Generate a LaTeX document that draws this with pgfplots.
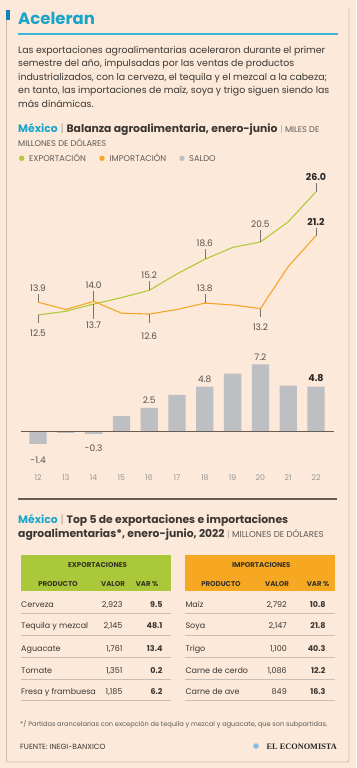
\documentclass[border=0pt]{standalone}
\usepackage{fontspec}
\setmainfont{Poppins}
\newfontfamily\brandfont{Liberation Serif}
\usepackage{pgfplots}
\pgfplotsset{compat=1.18}
\definecolor{bg}{RGB}{252,233,217}
\definecolor{cyanT}{RGB}{27,165,203}
\definecolor{cyanD}{RGB}{22,130,180}
\definecolor{txt}{RGB}{58,54,50}
\definecolor{lab}{RGB}{85,80,76}
\definecolor{soft}{RGB}{95,90,86}
\definecolor{pipe}{RGB}{170,165,160}
\definecolor{gline}{RGB}{178,202,58}
\definecolor{oline}{RGB}{245,166,40}
\definecolor{bargray}{RGB}{190,191,194}
\definecolor{yeargray}{RGB}{150,148,146}
\definecolor{framec}{RGB}{205,188,175}
\definecolor{zeroc}{RGB}{105,92,82}
\definecolor{ghdr}{RGB}{170,200,58}
\definecolor{ohdr}{RGB}{247,168,35}
\definecolor{hdrtxt}{RGB}{55,50,35}
\definecolor{rowline}{RGB}{200,190,182}
\definecolor{globe}{RGB}{130,190,228}
\begin{document}
\begin{tikzpicture}[x=1pt,y=-1pt,
  leader/.style={draw=lab!80, line width=0.45pt},
  lab/.style={font=\fontsize{9}{10}\selectfont, text=lab, inner sep=0pt},
  blab/.style={font=\fontsize{9.5}{10}\selectfont\bfseries, text=black!85, inner sep=0pt}]
\useasboundingbox (0,0) rectangle (356,768);
\fill[bg] (0,0) rectangle (356,768);
% frame
\draw[framec, line width=0.8pt, rounded corners=2pt] (6.5,20) -- (6.5,762) -- (349,762) -- (349,8);
\fill[cyanD] (5.5,10) rectangle (10,20.5);
% title
\node[anchor=base west, inner sep=0pt, font=\fontsize{16.5}{18}\selectfont\bfseries, text=cyanT] at (18,24.5) {Aceleran};
\draw[cyanT!85, line width=1.1pt] (18,34) -- (338,34);
% paragraph
\begin{scope}[every node/.style={anchor=base west, inner sep=0pt, font=\fontsize{9.4}{11}\selectfont, text=txt}]
\node at (18,53.3) {Las exportaciones agroalimentarias aceleraron durante el primer};
\node at (18,66.8) {semestre del año, impulsadas por las ventas de productos};
\node at (18,80.3) {industrializados, con la cerveza, el tequila y el mezcal a la cabeza;};
\node at (18,93.8) {en tanto, las importaciones de maíz, soya y trigo siguen siendo las};
\node at (18,107.3) {más dinámicas.};
\end{scope}
% section 1 header
\node[anchor=base west, inner sep=0pt, font=\fontsize{10.8}{12}\selectfont, text=txt] at (18,132.3)
 {\textcolor{cyanT}{\bfseries México} \textcolor{pipe}{|} \textbf{Balanza agroalimentaria, enero-junio} {\fontsize{8.3}{9}\selectfont\textcolor{soft}{\textcolor{pipe}{|} MILES DE}}};
\node[anchor=base west, inner sep=0pt, font=\fontsize{8.3}{9}\selectfont, text=soft] at (18,146) {MILLONES DE DÓLARES};
% legend
\fill[gline] (21.7,158.3) circle (2.7);
\node[anchor=base west, inner sep=0pt, font=\fontsize{8.3}{9}\selectfont, text=soft] at (29,161.5) {EXPORTACIÓN};
\fill[oline] (102,158.3) circle (2.7);
\node[anchor=base west, inner sep=0pt, font=\fontsize{8.3}{9}\selectfont, text=soft] at (109.5,161.5) {IMPORTACIÓN};
\fill[bargray] (182,158.3) circle (2.7);
\node[anchor=base west, inner sep=0pt, font=\fontsize{8.3}{9}\selectfont, text=soft] at (189,161.5) {SALDO};

% line chart
\begin{axis}[at={(10.2pt,-337.8pt)}, anchor=south west, scale only axis,
  width=333.6pt, height=164.3pt, xmin=11, xmax=23, ymin=10, ymax=28,
  enlargelimits=false, hide axis, clip=false]
\addplot[gline, line width=1.1pt] coordinates {(12,12.5)(13,12.9)(14,13.7)(15,14.4)(16,15.2)(17,17.0)(18,18.6)(19,19.9)(20,20.5)(21,22.7)(22,26.0)};
\addplot[oline, line width=1.1pt] coordinates {(12,13.9)(13,13.1)(14,14.0)(15,12.7)(16,12.6)(17,13.1)(18,13.8)(19,13.6)(20,13.2)(21,17.8)(22,21.2)};
% above labels
\draw[leader] (axis cs:12,13.9) -- ++(0pt,8.5pt);
\node[lab] at ([yshift=14.2pt]axis cs:12,13.9) {13.9};
\draw[leader] (axis cs:14,14.0) -- ++(0pt,10pt);
\node[lab] at ([yshift=15.7pt]axis cs:14,14.0) {14.0};
\draw[leader] (axis cs:16,15.2) -- ++(0pt,9.3pt);
\node[lab] at ([yshift=15.3pt]axis cs:16,15.2) {15.2};
\draw[leader] (axis cs:18,18.6) -- ++(0pt,10pt);
\node[lab] at ([yshift=15.7pt]axis cs:18,18.6) {18.6};
\draw[leader] (axis cs:18,13.8) -- ++(0pt,9.5pt);
\node[lab] at ([yshift=15.3pt]axis cs:18,13.8) {13.8};
\draw[leader] (axis cs:20,20.5) -- ++(0pt,12pt);
\node[lab] at ([yshift=17.7pt]axis cs:20,20.5) {20.5};
\draw[leader] (axis cs:22,26.0) -- ++(0pt,9pt);
\node[blab] at ([yshift=15pt]axis cs:22,26.0) {26.0};
\draw[leader] (axis cs:22,21.2) -- ++(0pt,8pt);
\node[blab] at ([yshift=14pt]axis cs:22,21.2) {21.2};
% below labels
\draw[leader] (axis cs:12,12.5) -- ++(0pt,-8pt);
\node[lab] at ([yshift=-18pt]axis cs:12,12.5) {12.5};
\draw[leader] (axis cs:14,13.7) -- ++(0pt,-15pt);
\node[lab] at ([yshift=-21pt]axis cs:14,13.7) {13.7};
\draw[leader] (axis cs:16,12.6) -- ++(0pt,-9pt);
\node[lab] at ([yshift=-22pt]axis cs:16,12.6) {12.6};
\draw[leader] (axis cs:20,13.2) -- ++(0pt,-8pt);
\node[lab] at ([yshift=-18.7pt]axis cs:20,13.2) {13.2};
\end{axis}

% bar chart
\begin{axis}[at={(10.2pt,-469.9pt)}, anchor=south west, scale only axis,
  width=333.6pt, height=117.6pt, xmin=11, xmax=23, ymin=-4.2, ymax=8.5,
  enlargelimits=false, clip=false, ybar, bar width=17.3pt,
  hide y axis, axis line style={draw=none}, major tick length=0pt,
  xtick={12,...,22}, xticklabels={12,13,14,15,16,17,18,19,20,21,22},
  xticklabel style={font=\fontsize{7.8}{9}\selectfont, text=yeargray, yshift=-1.2pt},
  /pgf/number format/assume math mode=true]
\addplot[fill=bargray, draw=none] coordinates {(12,-1.4)(13,-0.2)(14,-0.3)(15,1.6)(16,2.5)(17,3.9)(18,4.8)(19,6.2)(20,7.2)(21,4.9)(22,4.8)};
\draw[zeroc, line width=0.8pt] (axis cs:11.39,0) -- (axis cs:22.65,0);
\node[lab] at ([yshift=7.3pt]axis cs:20,7.2) {7.2};
\node[lab] at ([yshift=7pt]axis cs:18,4.8) {4.8};
\node[lab] at ([yshift=8pt]axis cs:16,2.5) {2.5};
\node[blab] at ([yshift=9pt]axis cs:22,4.8) {4.8};
\node[lab] at ([yshift=-14pt]axis cs:14,-0.3) {-0.3};
\node[lab] at ([yshift=-16.7pt]axis cs:12,-1.4) {-1.4};
\end{axis}
\draw[zeroc, line width=1.5pt] (18,499) -- (337,499);

% section 2 header
\node[anchor=base west, inner sep=0pt, font=\fontsize{10.8}{12}\selectfont, text=txt] at (18,523.3)
 {\textcolor{cyanT}{\bfseries México} \textcolor{pipe}{|} \textbf{Top 5 de exportaciones e importaciones}};
\node[anchor=base west, inner sep=0pt, font=\fontsize{10.8}{12}\selectfont, text=txt] at (18,537.3)
 {\textbf{agroalimentarias*, enero-junio, 2022} {\fontsize{8.6}{9}\selectfont\textcolor{soft}{\textcolor{pipe}{|} MILLONES DE DÓLARES}}};

% tables headers
\fill[ghdr] (20.7,555) rectangle (170.7,591);
\fill[ohdr] (185.3,555) rectangle (334.7,591);
\begin{scope}[every node/.style={anchor=base, inner sep=0pt, font=\fontsize{7}{8}\selectfont\bfseries, text=hdrtxt}]
\node at (97.5,567) {EXPORTACIONES};
\node at (58,586) {PRODUCTO};
\node at (113,586) {VALOR};
\node at (147,586) {VAR \%};
\node at (261.3,567) {IMPORTACIONES};
\node at (221,586) {PRODUCTO};
\node at (277,586) {VALOR};
\node at (318,586) {VAR \%};
\end{scope}
% row lines
\foreach \yy in {613.3,635,657.3,679,700.7}{
  \draw[rowline, line width=0.6pt] (20.7,\yy) -- (170.7,\yy);
  \draw[rowline, line width=0.6pt] (185.3,\yy) -- (334.7,\yy);
}
\begin{scope}[every node/.style={inner sep=0pt, font=\fontsize{8}{9}\selectfont, text=txt}]
\node[anchor=base west] at (21,607) {Cerveza};
\node[anchor=base west] at (21,628.7) {Tequila y mezcal};
\node[anchor=base west] at (21,651) {Aguacate};
\node[anchor=base west] at (21,673) {Tomate};
\node[anchor=base west] at (21,694.7) {Fresa y frambuesa};
\node[anchor=base east] at (122.7,607) {2,923};
\node[anchor=base east] at (122.7,628.7) {2,145};
\node[anchor=base east] at (122.7,651) {1,761};
\node[anchor=base east] at (122.7,673) {1,351};
\node[anchor=base east] at (122.7,694.7) {1,185};
\node[anchor=base east, font=\fontsize{8}{9}\selectfont\bfseries] at (162.7,607) {9.5};
\node[anchor=base east, font=\fontsize{8}{9}\selectfont\bfseries] at (162.7,628.7) {48.1};
\node[anchor=base east, font=\fontsize{8}{9}\selectfont\bfseries] at (162.7,651) {13.4};
\node[anchor=base east, font=\fontsize{8}{9}\selectfont\bfseries] at (162.7,673) {0.2};
\node[anchor=base east, font=\fontsize{8}{9}\selectfont\bfseries] at (162.7,694.7) {6.2};
\node[anchor=base west] at (185.3,607) {Maíz};
\node[anchor=base west] at (185.3,628.7) {Soya};
\node[anchor=base west] at (185.3,651) {Trigo};
\node[anchor=base west] at (185.3,673) {Carne de cerdo};
\node[anchor=base west] at (185.3,694.7) {Carne de ave};
\node[anchor=base east] at (287,607) {2,792};
\node[anchor=base east] at (287,628.7) {2,147};
\node[anchor=base east] at (287,651) {1,100};
\node[anchor=base east] at (287,673) {1,086};
\node[anchor=base east] at (287,694.7) {849};
\node[anchor=base east, font=\fontsize{8}{9}\selectfont\bfseries] at (325.7,607) {10.8};
\node[anchor=base east, font=\fontsize{8}{9}\selectfont\bfseries] at (325.7,628.7) {21.8};
\node[anchor=base east, font=\fontsize{8}{9}\selectfont\bfseries] at (325.7,651) {40.3};
\node[anchor=base east, font=\fontsize{8}{9}\selectfont\bfseries] at (325.7,673) {12.2};
\node[anchor=base east, font=\fontsize{8}{9}\selectfont\bfseries] at (325.7,694.7) {16.3};
\end{scope}
% footnote & source
\node[anchor=base west, inner sep=0pt, font=\fontsize{6.6}{7}\selectfont, text=soft] at (20,726.5)
 {*/ Partidas arancelarias con excepción de tequila y mezcal y aguacate, que son subpartidas.};
\node[anchor=base west, inner sep=0pt, font=\fontsize{7.5}{8}\selectfont, text=txt] at (20,749) {FUENTE: INEGI-BANXICO};
\node[anchor=base east, inner sep=0pt, font=\brandfont\fontsize{8.3}{9}\selectfont\bfseries, text=black!85] at (337,749) {EL ECONOMISTA};
\fill[globe] (256,746) circle (2.8);
\end{tikzpicture}
\end{document}
